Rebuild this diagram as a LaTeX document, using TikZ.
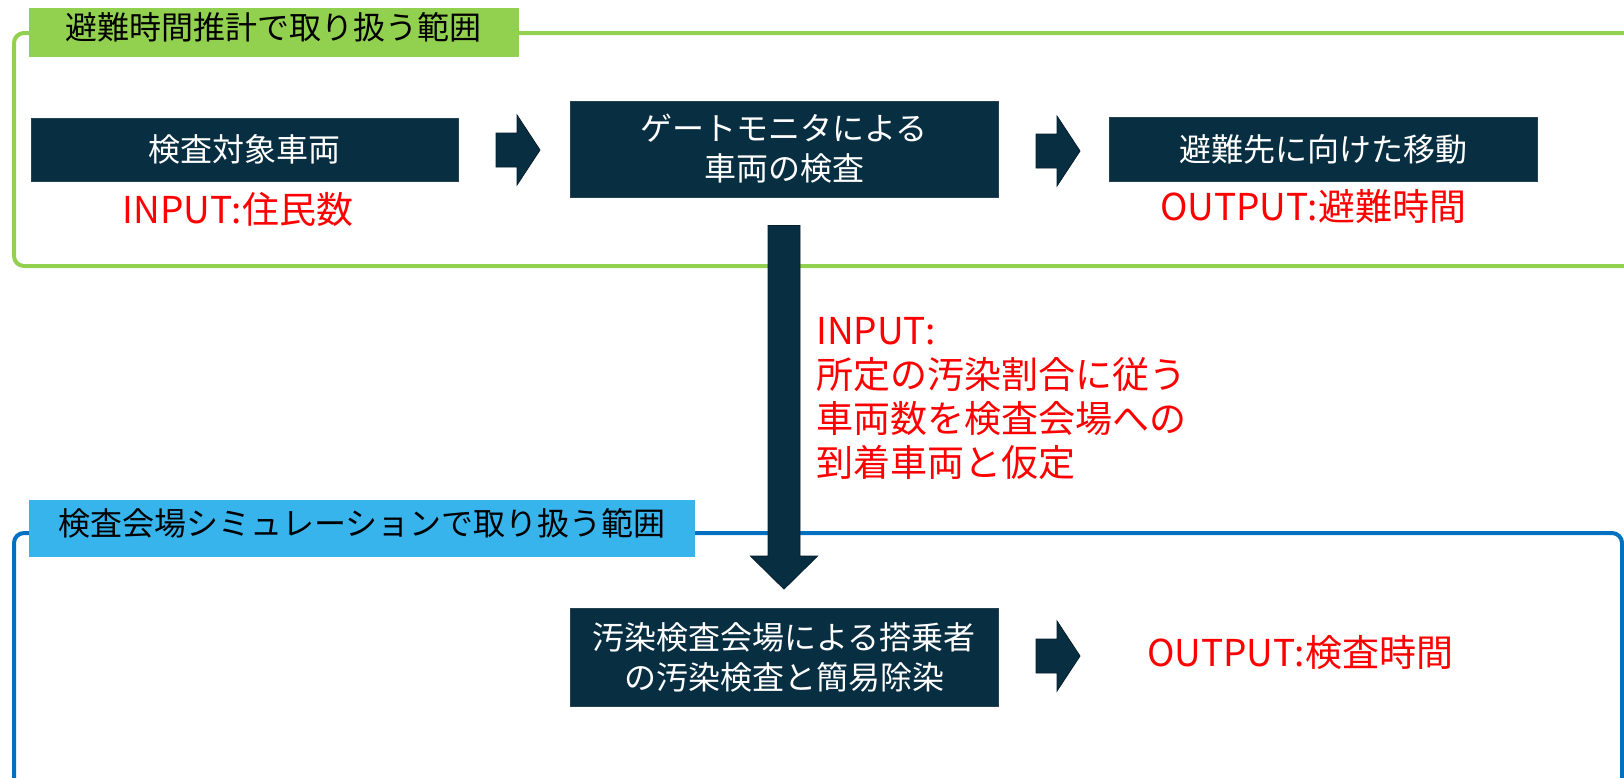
\documentclass[tikz,border=0pt]{standalone}
\usepackage{fontspec}
\setmainfont{Noto Sans CJK JP}
\usetikzlibrary{calc}
\definecolor{navy}{RGB}{8,46,66}
\definecolor{navyd}{RGB}{4,30,44}
\definecolor{grn}{RGB}{146,208,80}
\definecolor{skyb}{RGB}{56,180,236}
\definecolor{frblue}{RGB}{0,112,192}
\definecolor{redt}{RGB}{255,0,0}
\tikzset{
  procbox/.style={draw=navy!75!gray, line width=0.8, fill=navy, text=white,
    font=\fontsize{32}{40}\selectfont, align=center, inner sep=0,
    minimum width=428, minimum height=64},
  labelbox/.style={fill=#1, text=black, font=\fontsize{32}{40}\selectfont,
    inner sep=0, text height=20, text depth=6},
  redtext/.style={text=redt, font=\fontsize{37}{43.7}\selectfont, inner sep=0},
  frameline/.style={line width=4, rounded corners=10},
  rarrow/.pic={\fill[navy, draw=navyd, line width=0.8]
    (0,-17) -- (21,-17) -- (21,-35) -- (44,0) -- (21,35) -- (21,17) -- (0,17) -- cycle;}
}
\begin{document}
\begin{tikzpicture}[x=1pt,y=-1pt]
\useasboundingbox (0,0) rectangle (1624,777);
\clip (0,0) rectangle (1624,777);
\fill[white] (0,0) rectangle (1624,777);

% frames
\draw[frameline, grn] (1660,33) -- (14,33) -- (14,266) -- (1660,266);
\draw[frameline, frblue] (14,820) -- (14,533) -- (1622,533) -- (1622,820);

% labels
\node[labelbox=grn, minimum width=490, minimum height=49] (lab1) at (273.5,32.5) {避難時間推計で取り扱う範囲};
\node[labelbox=skyb, minimum width=666, minimum height=57] (lab2) at (362,528.5) {検査会場シミュレーションで取り扱う範囲};

% process boxes
\node[procbox, minimum width=427, minimum height=63] (box1) at (244.5,149.5) {検査対象車両};
\node[procbox, minimum height=96] (box2) at (784,149) {ゲートモニタによる\\車両の検査};
\node[procbox] (box3) at (1323,149) {避難先に向けた移動};
\node[procbox, minimum height=98] (box4) at (784,657.5) {汚染検査会場による搭乗者\\の汚染検査と簡易除染};

% block arrows
\pic at (496,150) {rarrow};
\pic at (1036,151) {rarrow};
\pic at (1036,656) {rarrow};

% vertical arrow from box2 to box4
\coordinate (vs) at ($(box2.south)+(0,28)$);
\coordinate (ve) at ($(box4.north)+(0,-19)$);
\fill[navy, draw=navyd, line width=0.8]
  ($(vs)+(-16,0)$) -- ($(vs)+(16,0)$) -- ($(ve)+(16,-33)$) -- ($(ve)+(33.5,-33)$)
  -- (ve) -- ($(ve)+(-33.5,-33)$) -- ($(ve)+(-16,-33)$) -- cycle;

% red texts
\node[redtext] (in1) at (238,209) {INPUT:住民数};
\node[redtext] (out1) at (1313,206) {OUTPUT:避難時間};
\node[redtext] (out2) at (1300,653) {OUTPUT:検査時間};
\node[redtext, anchor=west, align=left] (in2) at (816,398.5) {INPUT:\\所定の汚染割合に従う\\車両数を検査会場への\\到着車両と仮定};
\end{tikzpicture}
\end{document}
